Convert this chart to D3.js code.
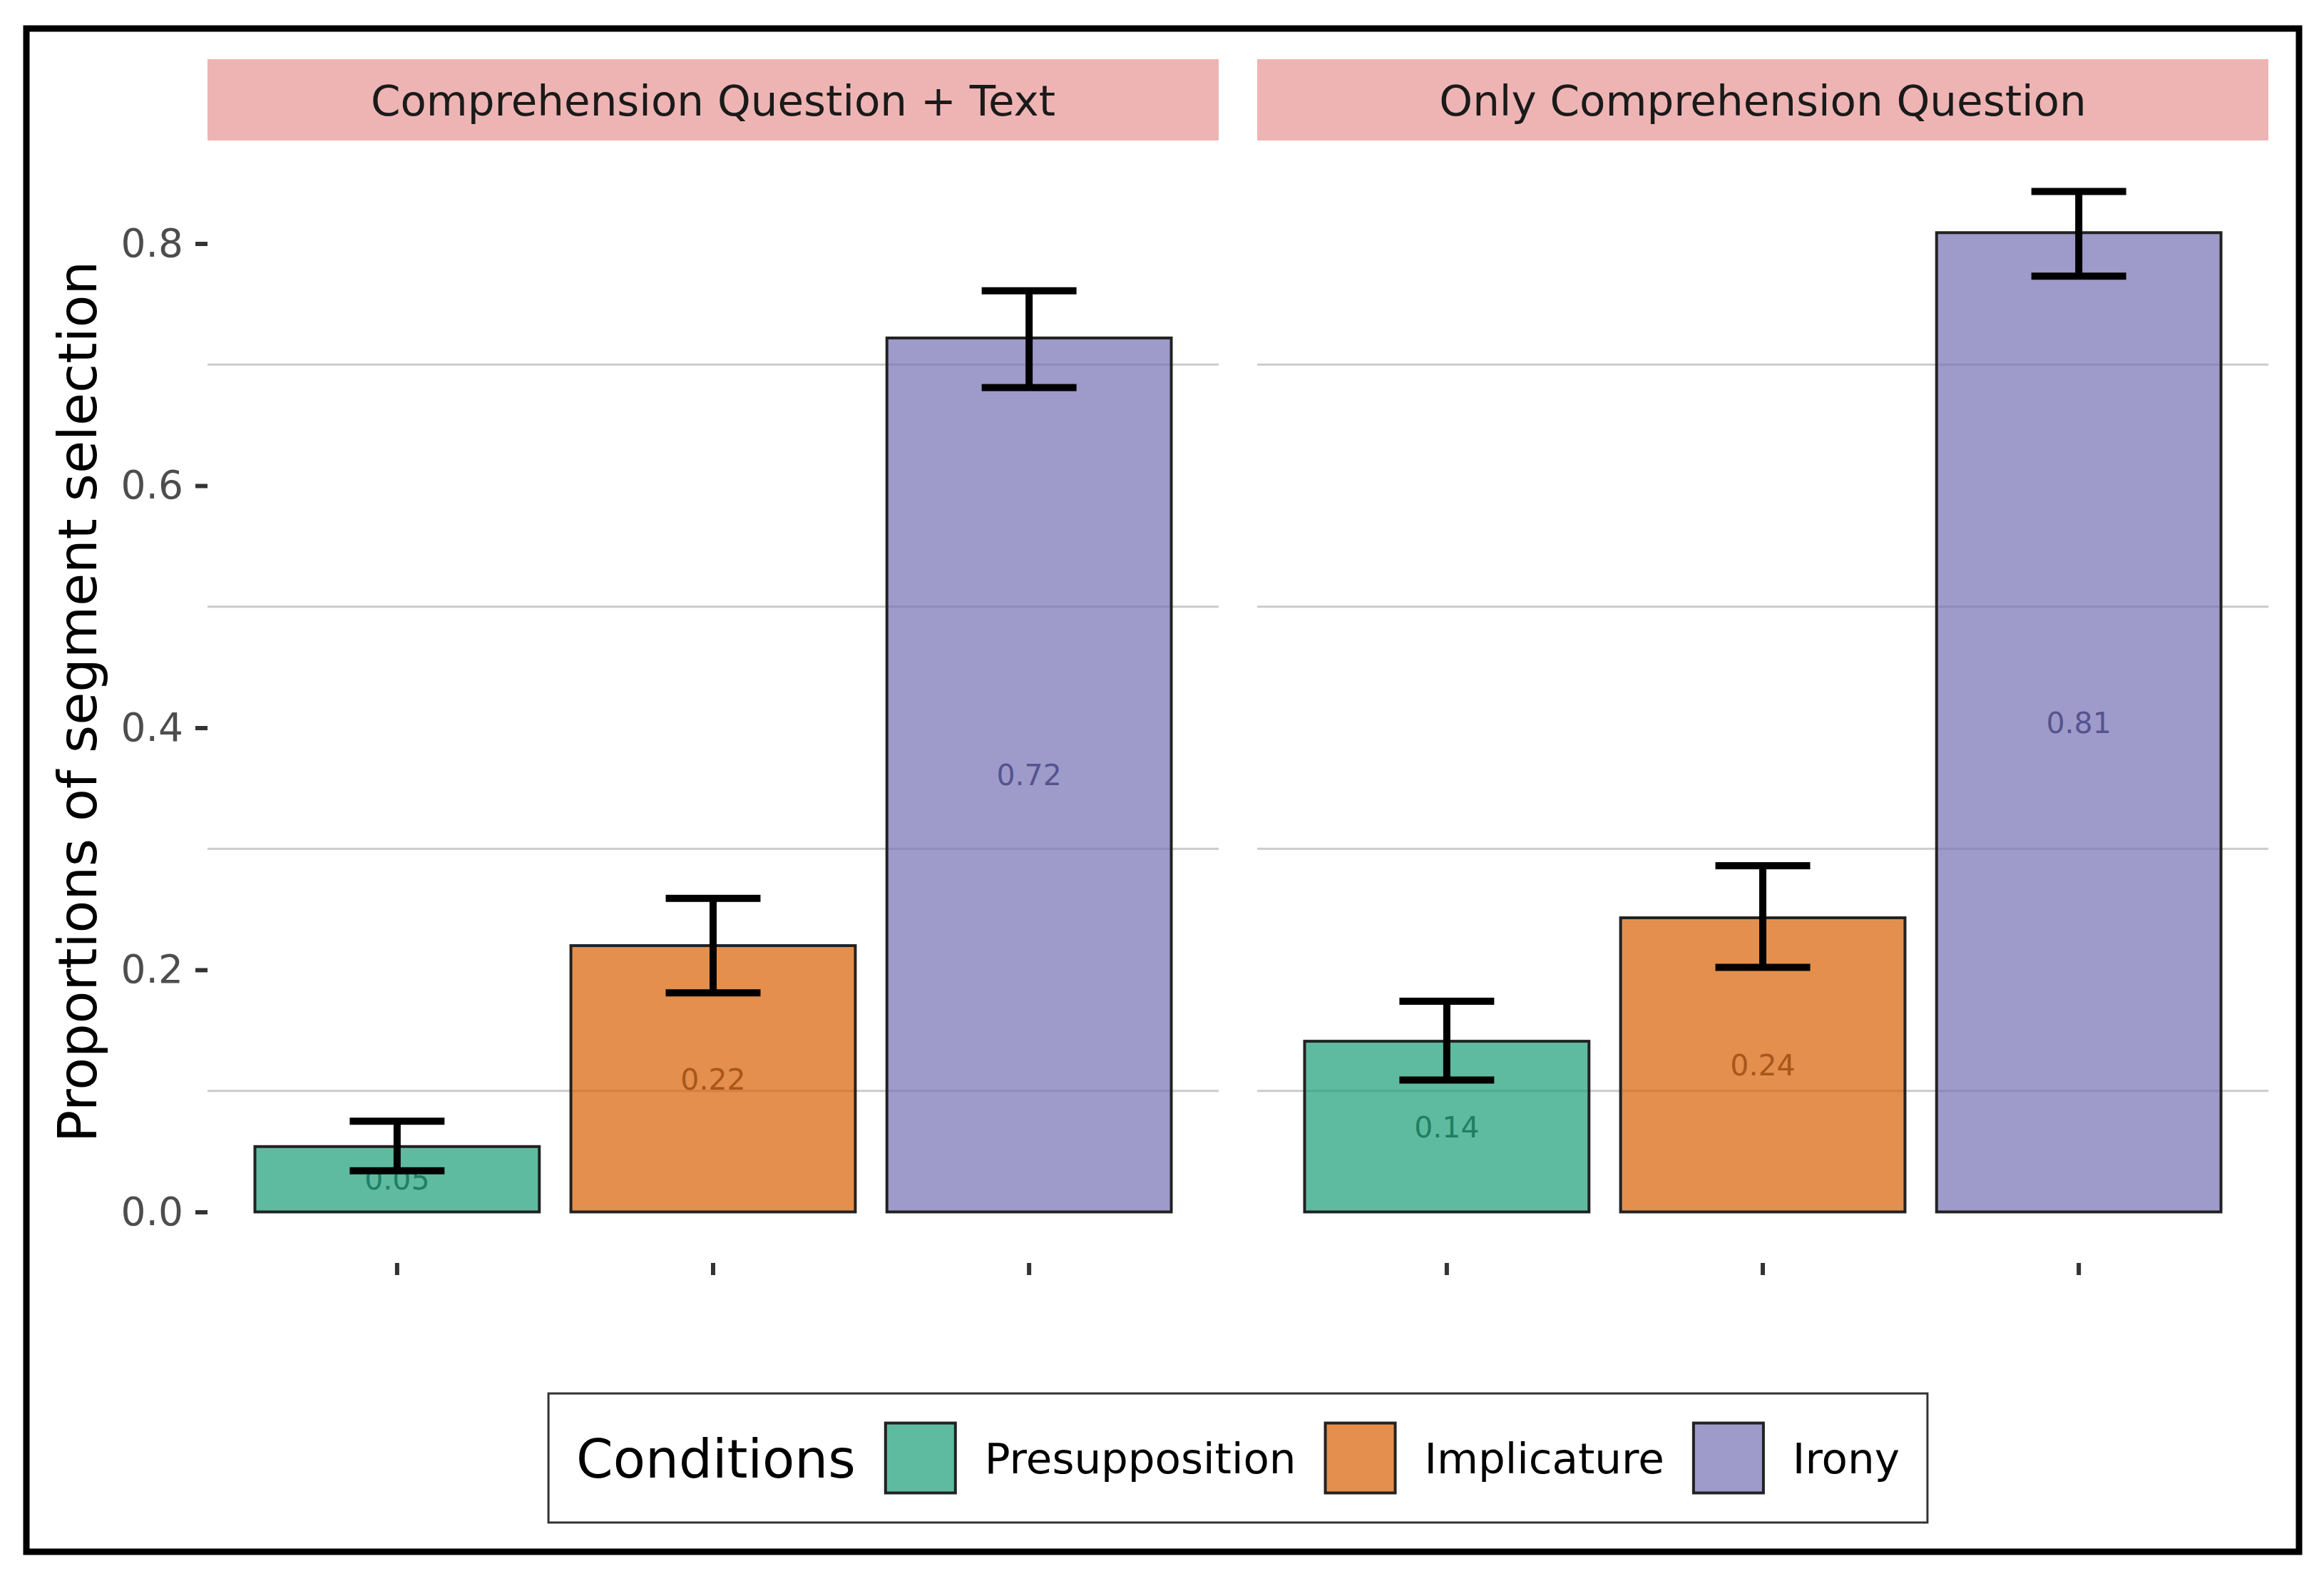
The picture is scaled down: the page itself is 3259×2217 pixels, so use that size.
<!DOCTYPE html>
<html>
<head>
<meta charset="utf-8">
<script src="https://cdn.jsdelivr.net/npm/d3@7"></script>
<style>
  body { margin: 0; background: #fff; }
  text { font-family: "DejaVu Sans", sans-serif; }
</style>
</head>
<body>
<div id="chart"></div>
<script>
// data
const panels = ["Comprehension Question + Text", "Only Comprehension Question"];
const conditions = ["Presupposition", "Implicature", "Irony"];
const means = [
  [0.054, 0.22, 0.722],
  [0.141, 0.243, 0.809],
];
const lower = [
  [0.034, 0.181, 0.681],
  [0.109, 0.202, 0.773],
];
const upper = [
  [0.075, 0.259, 0.761],
  [0.174, 0.286, 0.843],
];
const yTicks = [0, 0.2, 0.4, 0.6, 0.8];
const gridValues = [0.1, 0.3, 0.5, 0.7];

const fills = ["#1B9E77", "#D95F02", "#7570B3"];
const labelColors = ["#1f7f62", "#a9561a", "#57538f"];

const W = 3259, H = 2217;
const svg = d3
  .select("#chart")
  .append("svg")
  .attr("width", W)
  .attr("height", H);

svg.append("rect").attr("width", W).attr("height", H).attr("fill", "#fff");

// outer frame
svg
  .append("rect")
  .attr("x", 37)
  .attr("y", 40)
  .attr("width", 3187)
  .attr("height", 2136)
  .attr("fill", "none")
  .attr("stroke", "#000")
  .attr("stroke-width", 9);

// layout
const panelTop = 197, panelBottom = 1771;
const panelX = [[291, 1709], [1763, 3181]];
const stripTop = 83;

const yMax = d3.max(upper.flat());
const pad = yMax * 0.05;
const y = d3.scaleLinear().domain([-pad, yMax + pad]).range([panelBottom, panelTop]);

const color = d3.scaleOrdinal().domain(conditions).range(fills);
const labelColor = d3.scaleOrdinal().domain(conditions).range(labelColors);
const fmt = d3.format(".2f");

panels.forEach((name, p) => {
  const [x0, x1] = panelX[p];
  const x = d3
    .scaleBand()
    .domain(conditions)
    .range([x0, x1])
    .paddingInner(0.1)
    .paddingOuter(0.15);

  const g = svg.append("g");

  // strip
  g.append("rect")
    .attr("x", x0)
    .attr("y", stripTop)
    .attr("width", x1 - x0)
    .attr("height", panelTop - stripTop)
    .attr("fill", "#EEB4B4");
  g.append("text")
    .attr("x", (x0 + x1) / 2)
    .attr("y", 162)
    .attr("text-anchor", "middle")
    .attr("font-size", 59.5)
    .attr("fill", "#1a1a1a")
    .text(name);

  // grid (minor only)
  g.selectAll(".grid")
    .data(gridValues)
    .enter()
    .append("line")
    .attr("x1", x0)
    .attr("x2", x1)
    .attr("y1", (d) => y(d))
    .attr("y2", (d) => y(d))
    .attr("stroke", "#cbcbcb")
    .attr("stroke-width", 3);

  const rows = conditions.map((c, i) => ({
    cond: c,
    mean: means[p][i],
    lo: lower[p][i],
    hi: upper[p][i],
  }));

  // bars
  g.selectAll(".bar")
    .data(rows)
    .enter()
    .append("rect")
    .attr("x", (d) => x(d.cond))
    .attr("width", x.bandwidth())
    .attr("y", (d) => y(d.mean))
    .attr("height", (d) => y(0) - y(d.mean))
    .attr("fill", (d) => color(d.cond))
    .attr("fill-opacity", 0.7)
    .attr("stroke", "#222")
    .attr("stroke-width", 4);

  // value labels in the middle of each bar
  g.selectAll(".lbl")
    .data(rows)
    .enter()
    .append("text")
    .attr("x", (d) => x(d.cond) + x.bandwidth() / 2)
    .attr("y", (d) => y(d.mean / 2))
    .attr("dy", "0.36em")
    .attr("text-anchor", "middle")
    .attr("font-size", 41)
    .attr("fill", (d) => labelColor(d.cond))
    .text((d) => fmt(d.mean));

  // error bars, width 0.3 of a category step
  const cap = (x.step() * 0.3) / 2;
  const eb = g.selectAll(".eb").data(rows).enter().append("g")
    .attr("stroke", "#000")
    .attr("stroke-width", 10);
  const cx = (d) => x(d.cond) + x.bandwidth() / 2;
  eb.append("line")
    .attr("x1", cx).attr("x2", cx)
    .attr("y1", (d) => y(d.lo)).attr("y2", (d) => y(d.hi));
  eb.append("line")
    .attr("x1", (d) => cx(d) - cap).attr("x2", (d) => cx(d) + cap)
    .attr("y1", (d) => y(d.hi)).attr("y2", (d) => y(d.hi));
  eb.append("line")
    .attr("x1", (d) => cx(d) - cap).attr("x2", (d) => cx(d) + cap)
    .attr("y1", (d) => y(d.lo)).attr("y2", (d) => y(d.lo));

  // x axis: ticks only, no labels
  const xAxis = g
    .append("g")
    .attr("transform", `translate(0,${panelBottom})`)
    .call(d3.axisBottom(x).tickSize(17).tickFormat(""));
  xAxis.select(".domain").remove();
  xAxis.selectAll(".tick line").attr("stroke", "#333").attr("stroke-width", 6);
});

// y axis
const yAxis = svg
  .append("g")
  .attr("transform", `translate(${panelX[0][0]},0)`)
  .call(
    d3.axisLeft(y).tickValues(yTicks).tickFormat(d3.format(".1f")).tickSize(17).tickPadding(17)
  );
yAxis.select(".domain").remove();
yAxis.selectAll(".tick line").attr("stroke", "#333").attr("stroke-width", 6);
yAxis
  .selectAll(".tick text")
  .attr("font-size", 55)
  .attr("fill", "#4d4d4d")
  .attr("font-family", "DejaVu Sans");

svg
  .append("text")
  .attr("transform", `translate(135,${(panelTop + panelBottom) / 2}) rotate(-90)`)
  .attr("text-anchor", "middle")
  .attr("font-size", 75)
  .attr("fill", "#000")
  .text("Proportions of segment selection");

// legend
const legendTop = 1954, legendBottom = 2135;
const legendMid = (legendTop + legendBottom) / 2;
const keySize = 98;
const legend = svg.append("g");
const legendBox = legend
  .append("rect")
  .attr("y", legendTop)
  .attr("height", legendBottom - legendTop)
  .attr("fill", "#fff")
  .attr("stroke", "#333")
  .attr("stroke-width", 3);

let cursor = 0;
const title = legend
  .append("text")
  .attr("x", cursor)
  .attr("y", legendMid + 27)
  .attr("font-size", 74)
  .attr("fill", "#000")
  .text("Conditions");
cursor += title.node().getComputedTextLength() + 42;

const items = [];
conditions.forEach((c) => {
  const key = legend
    .append("rect")
    .attr("x", cursor)
    .attr("y", legendMid - keySize / 2)
    .attr("width", keySize)
    .attr("height", keySize)
    .attr("fill", color(c))
    .attr("fill-opacity", 0.7)
    .attr("stroke", "#222")
    .attr("stroke-width", 4);
  cursor += keySize + 41;
  const t = legend
    .append("text")
    .attr("x", cursor)
    .attr("y", legendMid + 21)
    .attr("font-size", 59.5)
    .attr("fill", "#000")
    .text(c);
  cursor += t.node().getComputedTextLength() + 41;
  items.push(key, t);
});
const contentW = cursor - 41;
const boxW = contentW + 39 * 2;
const boxX = (panelX[0][0] + panelX[1][1]) / 2 - boxW / 2;
legendBox.attr("x", boxX).attr("width", boxW);
title.attr("x", +title.attr("x") + boxX + 39);
items.forEach((el) => el.attr("x", +el.attr("x") + boxX + 39));
</script>
</body>
</html>
